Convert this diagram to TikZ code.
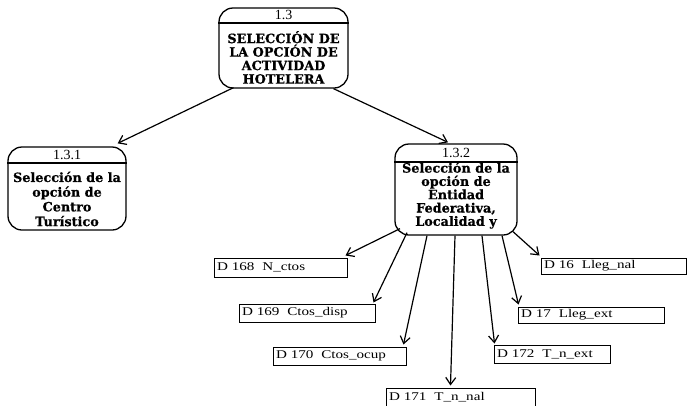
\documentclass[tikz,border=0pt]{standalone}
\usepackage{fontspec}
\setmainfont{Liberation Serif}
\newfontfamily\procfont[BoldFeatures={FakeBold=0.6}]{DejaVu Serif}
\newfontfamily\lblfont[FakeStretch=1.28]{Liberation Serif}
\usetikzlibrary{arrows.meta}

\tikzset{
  procbox/.style={draw, line width=1.3pt, rounded corners=14pt, inner sep=0pt},
  proctitle/.style={font=\fontsize{14}{15}\selectfont, inner sep=0pt},
  proctext/.style={font=\procfont\bfseries\fontsize{12.8}{13.5}\selectfont, align=center, inner sep=0pt},
  store/.style={draw, line width=1pt, inner xsep=3pt, inner ysep=0pt, minimum height=18pt,
                align=left, font=\lblfont\fontsize{11.8}{13}\selectfont},
  flow/.style={line width=1.2pt, -{Straight Barb[length=7pt,width=10pt,line width=1.2pt]}}
}

\begin{document}
\begin{tikzpicture}[x=1pt,y=-1pt]
\useasboundingbox (0,0) rectangle (688,405);

% process 1.3
\node[procbox, minimum width=129pt, minimum height=80pt] (p13) at (283.5,48) {};
\draw[line width=1.3pt] (p13.west |- 0,23) -- (p13.east |- 0,23);
\node[proctitle] (p13h) at (283.5,15) {1.3};
\node[proctext] (p13b) at (283.5,57.5) {SELECCIÓN DE\\LA OPCIÓN DE\\ACTIVIDAD\\HOTELERA};

% process 1.3.1
\node[procbox, minimum width=118pt, minimum height=83pt] (p131) at (67,188.5) {};
\draw[line width=1.3pt] (p131.west |- 0,163) -- (p131.east |- 0,163);
\node[proctitle] (p131h) at (67,155) {1.3.1};
\node[proctext, font=\procfont\bfseries\fontsize{12.8}{14.7}\selectfont] (p131b) at (67,199)
  {Selección de la\\opción de\\Centro\\Turístico};

% process 1.3.2
\node[procbox, minimum width=122pt, minimum height=91pt] (p132) at (456,189.5) {};
\draw[line width=1.3pt] (p132.west |- 0,162) -- (p132.east |- 0,162);
\node[proctitle] (p132h) at (456,153) {1.3.2};
\node[proctext, font=\procfont\bfseries\fontsize{12.8}{13.3}\selectfont] (p132b) at (456,195.5)
  {Selección de la\\opción de\\Entidad\\Federativa,\\Localidad y};

% data stores
\node[store, text width=127pt, minimum height=19pt] (d168) at (280.5,267.5) {D 168\ \ N\_ctos};
\node[store, text width=130pt] (d169) at (307,313) {D 169\ \ Ctos\_disp};
\node[store, text width=127pt] (d170) at (339.5,356) {D 170\ \ Ctos\_ocup};
\node[store, text width=143pt, minimum height=19pt] (d171) at (460.5,397.5) {D 171\ \ T\_n\_nal};
\node[store, text width=110pt] (d172) at (552,354) {D 172\ \ T\_n\_ext};
\node[store, text width=140pt, minimum height=16pt] (d17) at (591,315) {D 17\ \ Lleg\_ext};
\node[store, text width=139pt, minimum height=16pt] (d16) at (613.5,266) {D 16\ \ Lleg\_nal};

% flows
\draw[flow] ([shift={(-50,-1)}]p13.south) -- ([shift={(-9,-3)}]p131.north east);
\draw[flow] ([shift={(50,0)}]p13.south) -- ([shift={(-8,-1)}]p132.north);

\draw[flow] ([shift={(-56,-7)}]p132.south) -- ([shift={(-2,-2)}]d168.north east);
\draw[flow] ([shift={(-49,-3)}]p132.south) -- ([shift={(-2,-1)}]d169.north east);
\draw[flow] ([shift={(-29,0)}]p132.south) -- ([shift={(-3,-2)}]d170.north east);
\draw[flow] ([shift={(-1,0)}]p132.south) -- ([shift={(-10,-2)}]d171.north);
\draw[flow] ([shift={(26,0)}]p132.south) -- ([shift={(1,-1)}]d172.north west);
\draw[flow] ([shift={(46,0)}]p132.south) -- ([shift={(1,-2)}]d17.north west);
\draw[flow] ([shift={(57,-4)}]p132.south) -- ([shift={(-1,-2)}]d16.north west);
\end{tikzpicture}
\end{document}
